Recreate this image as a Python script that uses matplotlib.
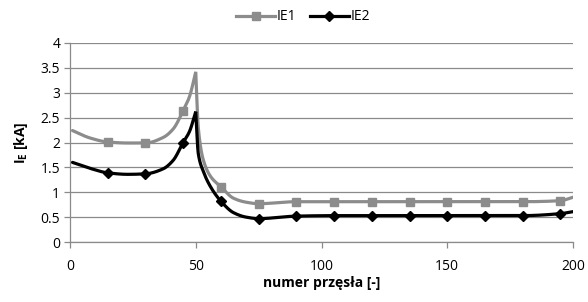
import numpy as np
import matplotlib
matplotlib.use("Agg")
import matplotlib.pyplot as plt
from matplotlib.lines import Line2D

plt.rcParams['font.family'] = ['Open Sans', 'DejaVu Sans']
plt.rcParams['mathtext.fontset'] = 'custom'
plt.rcParams['mathtext.rm'] = 'Open Sans:bold'
plt.rcParams['mathtext.bf'] = 'Open Sans:bold'

# data (spans; markers drawn only where the source shows them)
x_span = [1, 8, 15, 23, 30, 37, 41, 45, 47.5, 50, 51, 53, 56, 60, 65, 70, 75,
          90, 105, 120, 135, 150, 165, 180, 195, 200]
ie1 = [2.24, 2.09, 2.01, 1.99, 1.99, 2.10, 2.27, 2.64, 2.92, 3.42, 2.30, 1.65, 1.31, 1.11, 0.88, 0.80, 0.77,
       0.81, 0.81, 0.81, 0.81, 0.81, 0.81, 0.81, 0.83, 0.90]
ie2 = [1.60, 1.48, 1.39, 1.36, 1.37, 1.47, 1.64, 2.00, 2.22, 2.62, 1.78, 1.42, 1.10, 0.82, 0.59, 0.50, 0.47,
       0.52, 0.53, 0.53, 0.53, 0.53, 0.53, 0.53, 0.57, 0.61]
marker_idx = [2, 4, 7, 13, 16, 17, 18, 19, 20, 21, 22, 23, 24]
peak_idx = 9
x_ticks = [0, 50, 100, 150, 200]
y_ticks = [0, 0.5, 1, 1.5, 2, 2.5, 3, 3.5, 4]
y_ticklabels = ['0', '0.5', '1', '1.5', '2', '2.5', '3', '3.5', '4']


def pchip(xs, ys, n=40):
    x = np.asarray(xs, float)
    y = np.asarray(ys, float)
    h = np.diff(x)
    d = np.diff(y) / h
    m = np.zeros_like(y)
    for k in range(1, len(x) - 1):
        if d[k - 1] * d[k] <= 0:
            m[k] = 0.0
        else:
            w1 = 2 * h[k] + h[k - 1]
            w2 = h[k] + 2 * h[k - 1]
            m[k] = (w1 + w2) / (w1 / d[k - 1] + w2 / d[k])
    m[0] = d[0]
    m[-1] = d[-1]
    ox, oy = [x[0]], [y[0]]
    for k in range(len(x) - 1):
        t = np.linspace(0, 1, n)[1:]
        h00 = 2 * t**3 - 3 * t**2 + 1
        h10 = t**3 - 2 * t**2 + t
        h01 = -2 * t**3 + 3 * t**2
        h11 = t**3 - t**2
        ox.extend(x[k] + t * h[k])
        oy.extend(h00 * y[k] + h10 * h[k] * m[k] + h01 * y[k + 1] + h11 * h[k] * m[k + 1])
    return np.array(ox), np.array(oy)


def smooth_with_peak(xs, ys, p):
    ax1, ay1 = pchip(xs[:p + 1], ys[:p + 1])
    ax2, ay2 = pchip(xs[p:], ys[p:])
    return np.concatenate([ax1, ax2[1:]]), np.concatenate([ay1, ay2[1:]])


fig = plt.figure(figsize=(5.88, 3.02), dpi=100)
ax = fig.add_axes([70 / 588, 1 - 242 / 302, 503 / 588, 199 / 302])

gray = '#8c8c8c'
black = '#000000'

for ys, col, mk, ms in [(ie1, gray, 's', 6), (ie2, black, 'D', 5)]:
    sx, sy = smooth_with_peak(x_span, ys, peak_idx)
    ax.plot(sx, sy, color=col, lw=2.3, solid_capstyle='round', solid_joinstyle='miter', zorder=3)
    mx = [x_span[i] for i in marker_idx]
    my = [ys[i] for i in marker_idx]
    ax.plot(mx, my, ls='none', marker=mk, ms=ms, color=col, zorder=4)

ax.set_xlim(0, 200)
ax.set_ylim(0, 4)
ax.set_xticks(x_ticks)
ax.set_yticks(y_ticks)
ax.set_yticklabels(y_ticklabels)
ax.yaxis.grid(True, color='#8a8a8a', lw=0.9)
ax.set_axisbelow(True)
for s in ['top', 'right']:
    ax.spines[s].set_visible(False)
for s in ['left', 'bottom']:
    ax.spines[s].set_color('#8a8a8a')
    ax.spines[s].set_linewidth(0.9)
ax.tick_params(axis='both', colors='#8a8a8a', labelcolor='black', labelsize=10, length=4, width=0.9)
ax.tick_params(axis='x', pad=8)
ax.tick_params(axis='y', pad=3)

ax.set_xlabel('numer przęsła [-]', fontsize=10, fontweight='bold', labelpad=2)
ax.set_ylabel(r'I$_{\mathrm{E}}$ [kA]', fontsize=10, fontweight='bold', labelpad=8)

handles = [
    Line2D([], [], color=gray, lw=2.3, marker='s', ms=6),
    Line2D([], [], color=black, lw=2.3, marker='D', ms=5),
]
fig.legend(handles, ['IE1', 'IE2'], loc='center', bbox_to_anchor=(303 / 588, 1 - 17 / 302),
           ncol=2, frameon=False, fontsize=10, handlelength=2.8, handletextpad=0.1,
           columnspacing=1.0)

fig.savefig('out.png', dpi=100)
